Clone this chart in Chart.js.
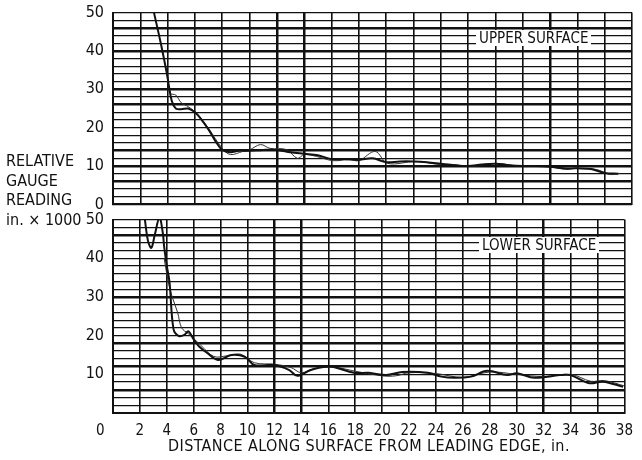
<!DOCTYPE html>
<html>
<head>
<meta charset="utf-8">
<script src="https://cdn.jsdelivr.net/npm/chart.js@4/dist/chart.umd.min.js"></script>
<style>
  body { margin: 0; background: #fff; }
  #wrap { position: relative; width: 642px; height: 460px; overflow: hidden;
          font-family: 'Liberation Sans Narrow', 'DejaVu Sans Condensed', sans-serif; color: #111; }
  .pane { position: absolute; left: 0; width: 642px; }
  .note { position: absolute; background: #fff; font-size: 15px; padding: 0 3px; line-height: 16px; }
  #ylab { position: absolute; left: 6px; top: 151px; font-size: 16px; line-height: 19.5px; }
  #zero { position: absolute; left: 96px; top: 421px; font-size: 15px; }
  #xtitle { position: absolute; left: 168px; top: 438px; font-size: 16px; line-height: 16px; letter-spacing: 0.4px; }
</style>
</head>
<body>
<div id="wrap">
  <div class="pane" style="top:-6px;height:229px"><canvas id="upper"></canvas></div>
  <div class="pane" style="top:201px;height:259px"><canvas id="lower"></canvas></div>
  <div class="note" style="left:476px;top:30px">UPPER SURFACE</div>
  <div class="note" style="left:479px;top:237px">LOWER SURFACE</div>
  <div id="ylab">RELATIVE<br>GAUGE<br>READING<br>in. &times; 1000</div>
  <div id="zero">0</div>
  <div id="xtitle">DISTANCE ALONG SURFACE FROM LEADING EDGE, in.</div>
</div>
<script>
// x axis: distance along surface (in.), y axis: gauge reading (in. x 1000)
const xTicks = [0, 2, 4, 6, 8, 10, 12, 14, 16, 18, 20, 22, 24, 26, 28, 30, 32, 34, 36, 38];

// upper surface, heavy trace
const upperX = [3.0, 3.5, 3.95, 4.3, 4.6, 5.0, 5.5, 6.0, 6.5, 7.0, 7.5, 8.0, 8.6, 9.2, 10.0, 11.0, 12.0, 13.0, 14.0, 15.0, 16.0, 17.0, 18.0, 19.0, 20.0, 21.0, 22.0, 23.0, 24.0, 25.0, 26.0, 27.0, 28.0, 29.0, 30.0, 31.0, 32.0, 33.0, 34.0, 35.0, 36.0, 37.0];
const upperY = [50, 42, 34, 27, 25, 24.8, 25, 24, 22, 19.5, 16.5, 14.2, 13.6, 14, 14, 14.2, 14.2, 13.6, 13.2, 12.8, 11.8, 11.8, 11.6, 12, 11, 11.2, 11.2, 11, 10.6, 10.2, 10, 10.4, 10.6, 10.2, 10, 10, 9.8, 9.4, 9.4, 9.2, 8.2, 8.0];
// upper surface, fine trace
const upperX2 = [3.95, 4.2, 4.6, 5.0, 5.5, 6.2, 7.0, 8.0, 8.6, 9.5, 10.0, 10.8, 11.5, 12.7, 13.5, 14.0, 14.9, 16.1, 17.3, 18.0, 19.2, 20.1, 22.2, 23.9, 24.9, 26.1, 28.1, 29.8, 31.8, 33.2, 34.0, 35.4, 36.4, 37.1];
const upperY2 = [34, 29, 28.5, 26.5, 25.5, 23.5, 19.8, 14.6, 13, 13.8, 14.2, 15.6, 14.6, 14.3, 12.0, 13, 12.5, 11.4, 11.7, 11.4, 13.8, 10.7, 11.2, 10.4, 10.4, 9.9, 10.7, 9.9, 9.9, 9.1, 9.4, 9.1, 7.8, 8.1];

// lower surface, heavy trace
const lowerX = [2.35, 2.6, 2.85, 3.1, 3.45, 3.7, 3.8, 4.0, 4.2, 4.5, 4.9, 5.3, 5.6, 6.0, 6.4, 7.0, 7.8, 8.8, 9.8, 10.5, 12.0, 13.1, 13.7, 14.7, 16.1, 17.9, 19.0, 20.3, 21.5, 23.4, 24.4, 25.4, 26.6, 27.8, 29.3, 30.0, 31.3, 33.2, 34.0, 35.4, 36.4, 37.9];
const lowerY = [50.5, 44.5, 42.7, 46, 50.5, 46.6, 43, 38, 33.8, 21.6, 19.9, 20.2, 21.1, 19, 17.2, 15.5, 13.7, 15, 14.5, 12.4, 12.4, 11.1, 9.6, 11.1, 12, 10.4, 10.4, 9.8, 10.6, 10.4, 9.4, 9.1, 9.4, 10.9, 9.8, 10.3, 9.1, 9.8, 9.8, 7.7, 8.1, 6.8];
// lower surface, fine trace
const lowerX2 = [3.8, 4.1, 4.4, 4.8, 5.1, 5.6, 6.5, 7.5, 8.5, 9.5, 10.5, 12.0, 13.2, 14.0, 15.0, 16.5, 18.0, 20.0, 21.0, 22.0, 24.0, 26.0, 28.0, 30.0, 32.0, 34.0, 35.5, 36.5, 38.0];
const lowerY2 = [40, 34, 30, 26, 22, 20.5, 17.6, 14.6, 14.8, 15.2, 13.0, 12.6, 11.8, 10.4, 11.6, 11.8, 10.8, 9.6, 9.6, 10.4, 10.2, 9.2, 10.6, 10, 9.4, 10, 8.2, 8.4, 7.0];

// heavier ruled lines on the chart paper
const upperHeavyY = [6, 10, 14, 26, 30, 40, 46];
const lowerHeavyY = [6, 12, 18, 30, 46];
const heavyX = [12, 14, 32];

const fontFam = "'Liberation Sans Narrow', 'DejaVu Sans Condensed', sans-serif";
Chart.defaults.font.family = fontFam;
Chart.defaults.color = '#111';

function pts(xs, ys) { return xs.map((x, i) => ({ x: x, y: ys[i] })); }

function panel(id, main, fine, heavyY, showX, padTop, padBottom) {
  new Chart(document.getElementById(id), {
    type: 'line',
    data: {
      datasets: [
        { data: main, borderColor: '#111', borderWidth: 2, pointRadius: 0, tension: 0.35 },
        { data: fine, borderColor: '#333', borderWidth: 1, pointRadius: 0, tension: 0.35 }
      ]
    },
    options: {
      responsive: true, maintainAspectRatio: false, animation: false,
      layout: { padding: { left: 60, right: 10, top: padTop, bottom: padBottom } },
      plugins: { legend: { display: false }, tooltip: { enabled: false } },
      scales: {
        x: {
          type: 'linear', min: 0, max: 38,
          afterBuildTicks: s => { s.ticks = xTicks.map(v => ({ value: v })); },
          afterFit: s => { s.height = showX ? 47 : 0; },
          grid: { color: '#111', drawTicks: false,
                  lineWidth: c => heavyX.includes(c.tick && c.tick.value) ? 2.5 : 1.6 },
          border: { color: '#111', width: 2 },
          ticks: { display: showX, padding: 9, maxRotation: 0, autoSkip: false,
                   font: { size: 15 }, callback: v => v === 0 ? '' : v }
        },
        y: {
          min: 0, max: 50,
          afterFit: s => { s.width = 53; },
          grid: { color: '#111', drawTicks: false,
                  lineWidth: c => heavyY.includes(c.tick && c.tick.value) ? 2.4 : 1.3 },
          border: { color: '#111', width: 2 },
          ticks: { stepSize: 2, padding: 9, autoSkip: false, font: { size: 16 },
                   callback: v => (v % 10 === 0 && (showX ? v > 0 : true)) ? v : '' }
        }
      }
    }
  });
}

panel('upper', pts(upperX, upperY), pts(upperX2, upperY2), upperHeavyY, false, 5, 7);
panel('lower', pts(lowerX, lowerY), pts(lowerX2, lowerY2), lowerHeavyY, true, 7, 0);
</script>
</body>
</html>
